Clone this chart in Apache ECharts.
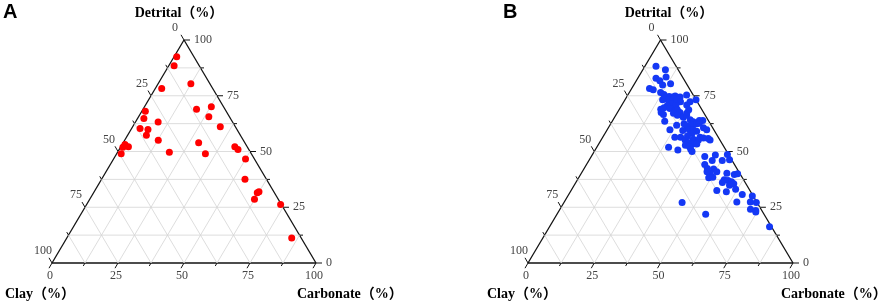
<!DOCTYPE html>
<html>
<head>
<meta charset="utf-8">
<script src="https://cdn.jsdelivr.net/npm/echarts@6/dist/echarts.min.js"></script>
<style>
html, body { margin: 0; padding: 0; background: #fff; }
#main { width: 886px; height: 308px; }
</style>
</head>
<body>
<div id="main"></div>
<script>
// ternary levels (%) for grid lines and ticks
var levels = [0, 12.5, 25, 37.5, 50, 62.5, 75, 87.5, 100];

// panel A: detrital and carbonate (%), clay = 100 - both
var detritalA = [92.5, 88.5, 80.4, 78.3, 68.9, 70.1, 65.6, 68.1, 64.8, 63.2,
                 60.3, 59.9, 57.3, 55.1, 61.1, 53.9, 49.7, 49.0, 52.1, 50.9,
                 46.6, 53.1, 52.1, 51.9, 49.0, 37.6, 32.0, 31.5, 28.6, 26.2,
                 11.2];
var carbonateA = [1.0, 2.0, 12.4, 2.4, 20.3, 25.3, 26.6, 1.3, 2.4, 8.6,
                  3.2, 6.4, 7.1, 12.7, 33.2, 28.6, 19.6, 33.6, 43.2, 45.0,
                  50.0, 1.1, 2.9, 0.9, 1.7, 54.3, 62.4, 62.0, 62.4, 73.5,
                  85.2];

// panel B
var detritalB = [88.2, 86.7, 82.8, 83.4, 81.7, 79.8, 80.4, 78.3, 77.7, 76.5,
                 75.6, 74.7, 74.4, 74.9, 74.0, 74.4, 75.3, 73.8, 73.2, 73.5,
                 73.2, 73.2, 72.3, 72.3, 73.2, 71.4, 70.5, 70.5, 70.8, 69.0,
                 69.6, 69.3, 68.4, 68.7, 68.7, 67.5, 67.2, 67.5, 67.2, 66.3,
                 65.4, 66.6, 66.3, 63.6, 64.2, 63.3, 63.9, 63.9, 62.4, 61.8,
                 62.4, 61.8, 61.5, 60.6, 62.7, 59.7, 59.4, 59.7, 59.7, 59.1,
                 59.7, 58.2, 57.0, 56.4, 56.4, 56.4, 55.2, 55.8, 55.5, 55.2,
                 56.0, 55.2, 54.0, 52.8, 53.4, 53.4, 51.9, 52.2, 51.0, 50.7,
                 50.0, 47.8, 48.4, 48.7, 46.0, 46.0, 46.3, 44.2, 42.1, 42.4,
                 40.3, 40.9, 40.9, 38.2, 40.3, 39.7, 40.0, 37.3, 37.0, 36.4,
                 34.9, 35.5, 36.1, 32.5, 31.9, 33.1, 30.7, 30.1, 27.4, 27.4,
                 27.1, 24.1, 23.5, 22.9, 16.3, 27.1, 21.9, 38.5];
var carbonateB = [4.2, 8.5, 6.9, 10.4, 8.9, 10.9, 13.6, 6.7, 8.4, 11.8,
                  13.5, 15.9, 17.4, 18.1, 19.4, 20.2, 22.2, 14.9, 16.2, 18.1,
                  19.5, 14.2, 21.4, 25.0, 26.8, 18.5, 17.3, 20.6, 24.5, 15.6,
                  16.5, 18.9, 21.2, 22.0, 26.3, 16.5, 21.3, 23.6, 26.3, 23.2,
                  25.9, 17.8, 26.7, 19.8, 29.1, 30.7, 32.7, 34.0, 27.7, 31.0,
                  32.5, 25.2, 29.1, 35.9, 33.3, 23.7, 28.7, 31.0, 32.5, 34.1,
                  37.6, 32.8, 31.7, 27.2, 29.4, 36.7, 41.1, 40.1, 34.6, 36.7,
                  38.2, 31.7, 33.4, 33.0, 35.5, 37.0, 27.1, 34.8, 35.9, 31.2,
                  36.9, 42.8, 46.5, 50.9, 46.5, 50.3, 52.9, 44.6, 49.0, 46.5,
                  48.6, 47.1, 50.8, 49.1, 54.9, 58.0, 59.1, 55.4, 57.0, 58.6,
                  58.6, 59.9, 55.3, 55.0, 58.9, 61.8, 65.5, 69.6, 65.1, 70.2,
                  72.6, 71.9, 74.2, 74.5, 83.0, 44.6, 56.1, 50.5];

var chart = echarts.init(document.getElementById('main'));

// detrital on top vertex, clay bottom-left, carbonate bottom-right
function toXY(d, k) {
    return [k + d / 2, d];
}

function points(det, carb) {
    var list = [];
    for (var i = 0; i < det.length; i++) {
        list.push(toXY(det[i], carb[i]));
    }
    return list;
}

var labelFont = '12px "Liberation Serif", "DejaVu Serif", serif';

function frameItem(params, api) {
    var v = api.value(0);
    var major = v % 25 === 0;
    var children = [];
    function P(d, k) { return api.coord(toXY(d, k)); }
    function seg(a, b, st) {
        children.push({ type: 'line', shape: { x1: a[0], y1: a[1], x2: b[0], y2: b[1] }, style: st });
    }
    function label(p, dx, dy, align) {
        children.push({
            type: 'text', x: p[0] + dx, y: p[1] + dy,
            style: { text: String(v), font: labelFont, fill: '#444', textAlign: align, textVerticalAlign: 'middle' }
        });
    }
    var edge = { stroke: '#111', lineWidth: 1.3 };
    var gridSt = { stroke: '#d4d4d4', lineWidth: 0.8 };
    if (v < 100) {
        var st = v === 0 ? edge : gridSt;
        seg(P(v, 0), P(v, 100 - v), st);
        seg(P(100 - v, 0), P(0, 100 - v), st);
        seg(P(0, v), P(100 - v, v), st);
    }
    var len = major ? 6 : 3.5;
    var tickSt = { stroke: '#111', lineWidth: 1 };
    // right edge: detrital
    var r = P(v, 100 - v);
    seg(r, [r[0] + len, r[1]], tickSt);
    // left edge: clay
    var l = P(100 - v, 0);
    seg(l, [l[0] - len * 0.5, l[1] - len * 0.866], tickSt);
    // bottom edge: carbonate
    var b = P(0, v);
    seg(b, [b[0] - len * 0.5, b[1] + len * 0.866], tickSt);
    if (major) {
        label(r, 10, 0, 'left');
        label(l, -9, -12, 'center');
        label(b, -2, 13, 'center');
    }
    return { type: 'group', children: children };
}

var levelData = levels.map(function (v) { return [v, 0]; });

var titleFont = 'bold 14px "Liberation Serif", "Noto Sans CJK SC", serif';
function titleText(text, x, y, align) {
    return { type: 'text', x: x, y: y, style: { text: text, font: titleFont, fill: '#000', textAlign: align, textVerticalAlign: 'middle' } };
}
function panelText(text, x) {
    return { type: 'text', x: x, y: 12, style: { text: text, font: 'bold 20px "Liberation Sans", Arial, sans-serif', fill: '#000', textVerticalAlign: 'middle' } };
}

var option = {
    animation: false,
    grid: [
        { left: 52, top: 40, width: 264, height: 223 },
        { left: 528, top: 40, width: 265, height: 223 }
    ],
    xAxis: [
        { gridIndex: 0, type: 'value', min: 0, max: 100, show: false },
        { gridIndex: 1, type: 'value', min: 0, max: 100, show: false }
    ],
    yAxis: [
        { gridIndex: 0, type: 'value', min: 0, max: 100, show: false },
        { gridIndex: 1, type: 'value', min: 0, max: 100, show: false }
    ],
    graphic: [
        panelText('A', 3),
        panelText('B', 503),
        titleText('Detrital（%）', 179, 13, 'center'),
        titleText('Detrital（%）', 669, 13, 'center'),
        titleText('Clay（%）', 5, 294, 'left'),
        titleText('Clay（%）', 487, 294, 'left'),
        titleText('Carbonate（%）', 297, 294, 'left'),
        titleText('Carbonate（%）', 781, 294, 'left')
    ],
    series: [
        { type: 'custom', xAxisIndex: 0, yAxisIndex: 0, renderItem: frameItem, data: levelData, clip: false, silent: true, z: 1 },
        { type: 'custom', xAxisIndex: 1, yAxisIndex: 1, renderItem: frameItem, data: levelData, clip: false, silent: true, z: 1 },
        {
            type: 'scatter', xAxisIndex: 0, yAxisIndex: 0, symbolSize: 7, z: 3,
            itemStyle: { color: '#ff0000', opacity: 1 },
            data: points(detritalA, carbonateA)
        },
        {
            type: 'scatter', xAxisIndex: 1, yAxisIndex: 1, symbolSize: 7, z: 3,
            itemStyle: { color: '#1438f5', opacity: 1 },
            data: points(detritalB, carbonateB)
        }
    ]
};
chart.setOption(option);
window.addEventListener('resize', function () {
    chart.resize();
});
</script>
</body>
</html>
